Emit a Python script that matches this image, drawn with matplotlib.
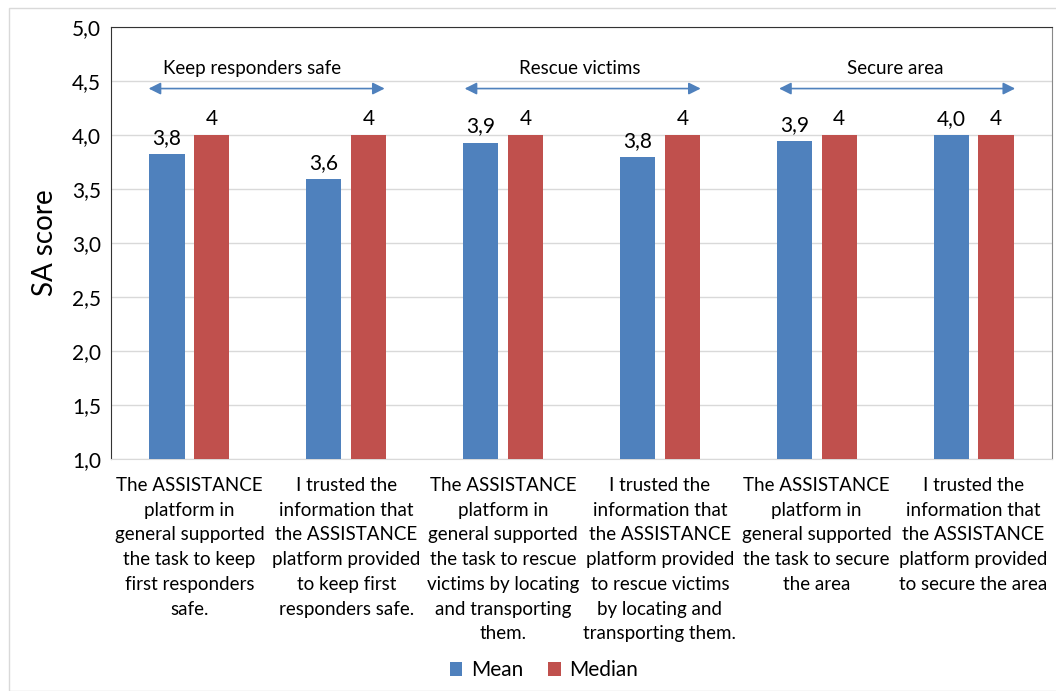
import matplotlib
matplotlib.use("Agg")
import matplotlib.pyplot as plt
from matplotlib.patches import Rectangle
import numpy as np

plt.rcParams.update({"font.family": ["Lato", "DejaVu Sans"], "font.size": 14})

CATEGORIES = [
    "The ASSISTANCE\nplatform in\ngeneral supported\nthe task to keep\nfirst responders\nsafe.",
    "I trusted the\ninformation that\nthe ASSISTANCE\nplatform provided\nto keep first\nresponders safe.",
    "The ASSISTANCE\nplatform in\ngeneral supported\nthe task to rescue\nvictims by locating\nand transporting\nthem.",
    "I trusted the\ninformation that\nthe ASSISTANCE\nplatform provided\nto rescue victims\nby locating and\ntransporting them.",
    "The ASSISTANCE\nplatform in\ngeneral supported\nthe task to secure\nthe area",
    "I trusted the\ninformation that\nthe ASSISTANCE\nplatform provided\nto secure the area",
]
MEAN = [3.82, 3.59, 3.93, 3.80, 3.94, 4.00]
MEDIAN = [4, 4, 4, 4, 4, 4]
MEAN_LABELS = ["3,8", "3,6", "3,9", "3,8", "3,9", "4,0"]
MEDIAN_LABELS = ["4", "4", "4", "4", "4", "4"]
GROUPS = ["Keep responders safe", "Rescue victims", "Secure area"]
GROUP_SPANS = [(-0.26, 1.245), (1.755, 3.26), (3.76, 5.265)]
GROUP_TEXT_X = [0.40, 2.49, 4.50]
YTICKS = [1.0, 1.5, 2.0, 2.5, 3.0, 3.5, 4.0, 4.5, 5.0]

BLUE = "#4F81BD"
RED = "#C0504D"

fig = plt.figure(figsize=(10.56, 6.91), dpi=100)
fig.patches.append(Rectangle((9 / 1056, 0), 1.0, 1 - 8 / 691, transform=fig.transFigure,
                             fill=False, ec="#D9D9D9", lw=1.0))
ax = fig.add_axes([111 / 1056, 1 - 459 / 691, (1052 - 111) / 1056, (459 - 27) / 691])

x = np.arange(len(CATEGORIES))
w, off = 0.225, 0.143
b1 = ax.bar(x - off, MEAN, w, bottom=0, color=BLUE, label="Mean", zorder=3)
b2 = ax.bar(x + off, MEDIAN, w, bottom=0, color=RED, label="Median", zorder=3)
for bars, labs in ((b1, MEAN_LABELS), (b2, MEDIAN_LABELS)):
    for r, lab in zip(bars, labs):
        ax.annotate(lab, (r.get_x() + r.get_width() / 2, r.get_height()),
                    xytext=(0, 6), textcoords="offset pixels",
                    ha="center", va="bottom", fontsize=15)

for (x0, x1), tx, name in zip(GROUP_SPANS, GROUP_TEXT_X, GROUPS):
    ax.annotate("", xy=(x1, 4.43), xytext=(x0, 4.43),
                arrowprops=dict(arrowstyle="<|-|>", color=BLUE, lw=1.2,
                                mutation_scale=18, shrinkA=0, shrinkB=0))
    ax.text(tx, 4.62, name, ha="center", va="center", fontsize=13.5)

ax.set_xlim(-0.5, 5.5)
ax.set_ylim(1, 5)
ax.set_yticks(YTICKS)
ax.set_yticklabels([f"{v:.1f}".replace(".", ",") for v in YTICKS], fontsize=15)
ax.set_xticks(x)
ax.set_xticklabels(CATEGORIES, fontsize=13.5, linespacing=1.55, va="top")
ax.tick_params(axis="both", length=0)
ax.tick_params(axis="x", pad=13)
ax.tick_params(axis="y", pad=7)
ax.set_ylabel("SA score", fontsize=20, labelpad=10)
ax.grid(axis="y", color="#D9D9D9", lw=1.0, zorder=0)
ax.set_axisbelow(True)
ax.spines["left"].set_color("#333333")
ax.spines["top"].set_color("#333333")
ax.spines["right"].set_color("#888888")
ax.spines["bottom"].set_color("#D9D9D9")

fig.legend(handles=[b1, b2], loc="center", bbox_to_anchor=(0.515, 0.03), ncol=2,
           frameon=False, fontsize=15, handlelength=0.6, handleheight=0.6,
           handletextpad=0.4, columnspacing=1.2)

fig.savefig("out.png", dpi=100)
